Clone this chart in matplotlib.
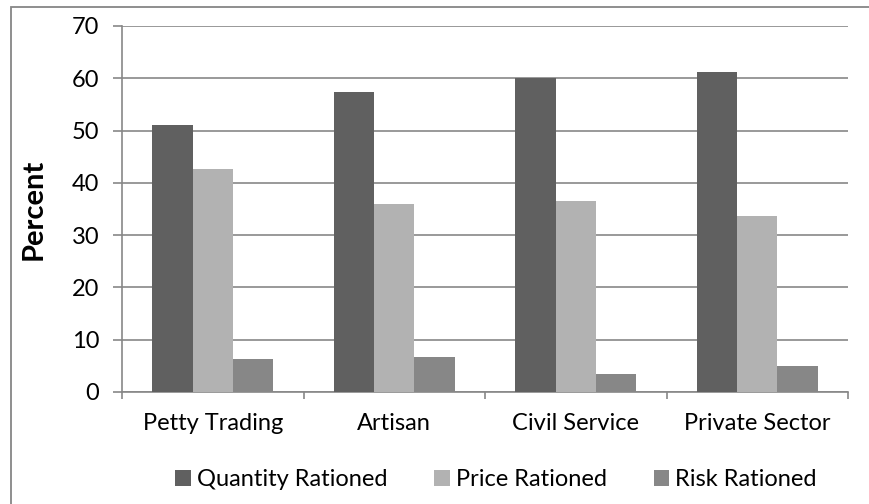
import matplotlib
matplotlib.use("Agg")
import matplotlib.pyplot as plt
from matplotlib.patches import Rectangle, Patch
import numpy as np

plt.rcParams['font.family'] = ['Lato', 'DejaVu Sans']

categories = ['Petty Trading', 'Artisan', 'Civil Service', 'Private Sector']
series_names = ['Quantity Rationed', 'Price Rationed', 'Risk Rationed']
quantity = [51.0, 57.3, 60.0, 61.2]
price = [42.6, 35.9, 36.6, 33.7]
risk = [6.3, 6.6, 3.4, 5.0]
colors = ['#606060', '#b2b2b2', '#878787']
grid_col = '#878787'

W, H = 870, 504
fig = plt.figure(figsize=(W / 100, H / 100), dpi=100)

# outer chart border (cut off at right/bottom like the reference)
fig.patches.append(Rectangle((11 / W, -0.05), 1.1, (H - 7) / H + 0.05,
                             transform=fig.transFigure, fill=False,
                             edgecolor='#868686', lw=1.3))

ax = fig.add_axes([122 / W, (H - 392) / H, 726 / W, 366 / H])

x = np.arange(len(categories))
w = 1 / 4.5
for i, (vals, c) in enumerate(zip([quantity, price, risk], colors)):
    ax.bar(x + (i - 1) * w, vals, width=w, color=c, zorder=3, label=series_names[i])

ax.set_xlim(-0.5, len(categories) - 0.5)
ax.set_ylim(0, 70)
ax.set_yticks(range(0, 71, 10))
ax.grid(axis='y', color=grid_col, lw=1.2, zorder=0)
ax.set_axisbelow(True)

for s in ['top', 'right']:
    ax.spines[s].set_visible(False)
for s in ['left', 'bottom']:
    ax.spines[s].set_color(grid_col)
    ax.spines[s].set_linewidth(1.2)

ax.set_xticks(x)
ax.set_xticklabels(categories)
ax.set_xticks(np.arange(-0.5, len(categories), 1), minor=True)
ax.tick_params(axis='x', which='major', length=0, pad=15, labelsize=17)
ax.tick_params(axis='x', which='minor', length=5, color=grid_col, width=1.2)
ax.tick_params(axis='y', length=6.5, color=grid_col, width=1.2, pad=10, labelsize=17)

ax.set_ylabel('Percent', fontsize=21, fontweight='bold')
ax.yaxis.set_label_coords((47 - 122) / 726, 0.5)

handles = [Patch(facecolor=c, label=n) for c, n in zip(colors, series_names)]
fig.legend(handles=handles, loc='center', bbox_to_anchor=(496 / W, 24 / H),
           ncol=3, frameon=False, fontsize=17, handlelength=0.65, handleheight=0.65,
           handletextpad=0.25, columnspacing=2.0)

fig.savefig('out.png', dpi=100)
